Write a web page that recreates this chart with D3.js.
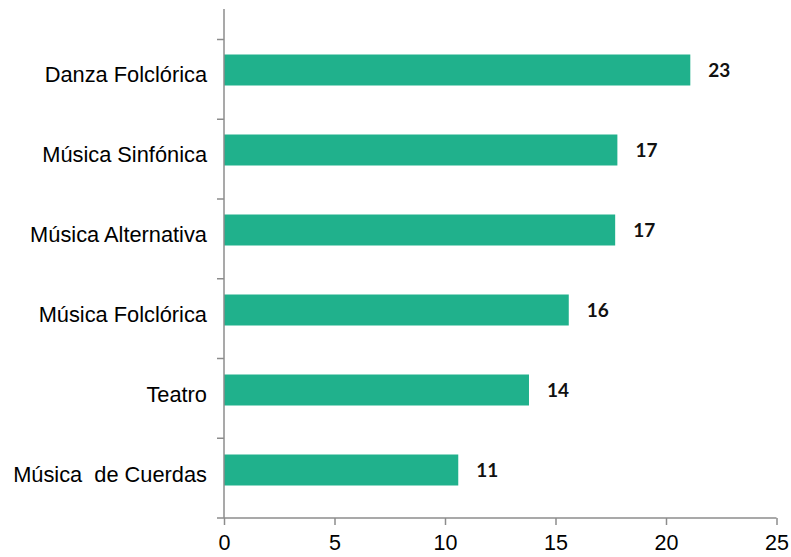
<!DOCTYPE html>
<html>
<head>
<meta charset="utf-8">
<script src="https://cdn.jsdelivr.net/npm/d3@7/dist/d3.min.js"></script>
<style>
  html, body { margin: 0; padding: 0; background: #fff; }
  svg { display: block; }
</style>
</head>
<body>
<svg id="chart" width="791" height="557"></svg>
<script>
const categories = ["Danza Folclórica", "Música Sinfónica", "Música Alternativa", "Música Folclórica", "Teatro", "Música  de Cuerdas"];
const barValues = [21.1, 17.8, 17.7, 15.6, 13.8, 10.6];
const dataLabels = ["23", "17", "17", "16", "14", "11"];
const xTicks = [0, 5, 10, 15, 20, 25];

const svg = d3.select("#chart");
const x0 = 224, x1 = 776.5;
const axisTop = 9, axisBottom = 518;

const x = d3.scaleLinear().domain([0, 25]).range([x0, x1]);
const y = d3.scaleBand().domain(categories).range([30, 510]).paddingInner(0.6).paddingOuter(0.3);
// category tick boundaries (offset from bar bands as in reference)
const yTick = d3.scaleLinear().domain([0, categories.length]).range([39.5, 518]);

const axisColor = "#8c8c8c";

// bars
svg.append("g").selectAll("rect").data(categories).join("rect")
  .attr("x", x(0))
  .attr("y", d => y(d) + y.bandwidth() / 2 - 15.5)
  .attr("width", (d, i) => x(barValues[i]) - x(0))
  .attr("height", 31)
  .attr("fill", "#20b18c");

// y axis line
svg.append("line")
  .attr("x1", x0).attr("x2", x0).attr("y1", axisTop).attr("y2", axisBottom)
  .attr("stroke", axisColor).attr("stroke-width", 1.5);
// y ticks
svg.append("g").selectAll("line").data(d3.range(categories.length)).join("line")
  .attr("x1", x0 - 7).attr("x2", x0)
  .attr("y1", d => yTick(d)).attr("y2", d => yTick(d))
  .attr("stroke", axisColor).attr("stroke-width", 1.5);

// x axis
const xAxis = d3.axisBottom(x).tickValues(xTicks).tickSize(7).tickPadding(10).tickSizeOuter(0);
const gx = svg.append("g").attr("transform", `translate(0,${axisBottom})`).call(xAxis);
gx.select(".domain").attr("d", `M${x0 - 7},0H${x1}`).attr("stroke", axisColor).attr("stroke-width", 1.5);
gx.selectAll(".tick line").attr("stroke", axisColor).attr("stroke-width", 1.5);
gx.selectAll(".tick text")
  .attr("font-family", "'Liberation Sans', Arial, sans-serif")
  .attr("font-size", 21.5).attr("fill", "#000").attr("dy", "0.72em");

// category labels
svg.append("g").selectAll("text").data(categories).join("text")
  .attr("x", 207)
  .attr("y", d => y(d) + y.bandwidth() / 2 + 4)
  .attr("text-anchor", "end")
  .attr("dominant-baseline", "central")
  .attr("font-family", "'Liberation Sans', Arial, sans-serif")
  .attr("font-size", 21.8)
  .attr("fill", "#000")
  .style("white-space", "pre")
  .attr("xml:space", "preserve")
  .text(d => d);

// data labels
svg.append("g").selectAll("text").data(categories).join("text")
  .attr("x", (d, i) => x(barValues[i]) + 18)
  .attr("y", d => y(d) + y.bandwidth() / 2 - 1)
  .attr("dominant-baseline", "central")
  .attr("font-family", "Lato, 'Open Sans', sans-serif")
  .attr("font-weight", "bold")
  .attr("font-size", 19)
  .attr("fill", "#111")
  .text((d, i) => dataLabels[i]);
</script>
</body>
</html>
